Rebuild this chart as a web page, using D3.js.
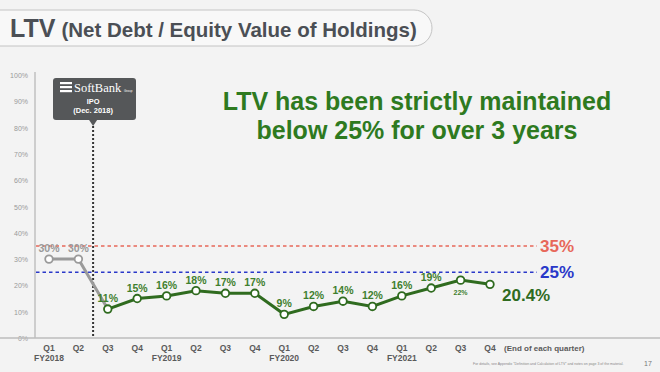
<!DOCTYPE html>
<html>
<head>
<meta charset="utf-8">
<script src="https://cdn.jsdelivr.net/npm/d3@7"></script>
<style>
  body { margin: 0; background: #f3f3f3; }
  svg { display: block; font-family: "Liberation Sans", Arial, sans-serif; }
</style>
</head>
<body>
<div id="chart"></div>
<script>
const quarters = ["Q1", "Q2", "Q3", "Q4", "Q1", "Q2", "Q3", "Q4", "Q1", "Q2", "Q3", "Q4", "Q1", "Q2", "Q3", "Q4"];
const fiscalYears = ["FY2018", "", "", "", "FY2019", "", "", "", "FY2020", "", "", "", "FY2021", "", "", ""];
const ltv = [30, 30, 11, 15, 16, 18, 17, 17, 9, 12, 14, 12, 16, 19, 22, 20.4];
const ltvLabels = ["30%", "30%", "11%", "15%", "16%", "18%", "17%", "17%", "9%", "12%", "14%", "12%", "16%", "19%", "22%", ""];
const yTicks = [0, 10, 20, 30, 40, 50, 60, 70, 80, 90, 100];
const limits = [35, 25];
const preIpoCount = 2;

const W = 660, H = 372;
const svg = d3.select("#chart").append("svg").attr("width", W).attr("height", H);

svg.append("rect").attr("width", W).attr("height", H).attr("fill", "#f3f3f3");

// title pill
svg.append("rect")
    .attr("x", -30).attr("y", 10).attr("width", 462).attr("height", 36).attr("rx", 18)
    .attr("fill", "#f8f8f8").attr("stroke", "#c4c4c4").attr("stroke-width", 1);
const title = svg.append("text").attr("x", 10).attr("y", 37).attr("fill", "#4b4f55").attr("font-weight", "bold");
title.append("tspan").attr("font-size", 25).text("LTV");
title.append("tspan").attr("font-size", 20.5).attr("dx", 6).text("(Net Debt / Equity Value of Holdings)");

const x = d3.scalePoint().domain(d3.range(quarters.length)).range([49, 490]);
const y = d3.scaleLinear().domain([0, 100]).range([338, 75]);

// y axis
svg.append("line").attr("x1", 35).attr("x2", 35).attr("y1", 72).attr("y2", y(0))
    .attr("stroke", "#c0c0c0").attr("stroke-width", 1.5);
svg.selectAll(".ytick").data(yTicks).enter().append("text")
    .attr("x", 28).attr("y", d => y(d) + 3)
    .attr("text-anchor", "end").attr("font-size", 7).attr("fill", "#999")
    .text(d => d + "%");

// baseline
svg.append("line").attr("x1", 0).attr("x2", W).attr("y1", y(0)).attr("y2", y(0))
    .attr("stroke", "#bdbdbd").attr("stroke-width", 1.5);

// x labels
svg.selectAll(".q").data(quarters).enter().append("text")
    .attr("x", (d, i) => x(i)).attr("y", 351)
    .attr("text-anchor", "middle").attr("font-size", 8.5).attr("font-weight", "bold").attr("fill", "#5a5a5a")
    .text(d => d);
svg.selectAll(".fy").data(fiscalYears).enter().append("text")
    .attr("x", (d, i) => x(i)).attr("y", 361)
    .attr("text-anchor", "middle").attr("font-size", 8.5).attr("font-weight", "bold").attr("fill", "#5a5a5a")
    .text(d => d);
svg.append("text").attr("x", 504).attr("y", 351)
    .attr("font-size", 8).attr("font-weight", "bold").attr("fill", "#5a5a5a")
    .text("(End of each quarter)");

// limit lines
const limitColors = ["#e7685a", "#2a38c9"];
limits.forEach((v, i) => {
    svg.append("line").attr("x1", 36).attr("x2", 537).attr("y1", y(v)).attr("y2", y(v))
        .attr("stroke", limitColors[i]).attr("stroke-width", 1.6).attr("stroke-dasharray", "3.5,3");
    svg.append("text").attr("x", 540).attr("y", y(v) + 6)
        .attr("font-size", 17).attr("font-weight", "bold").attr("fill", limitColors[i])
        .text(v + "%");
});

// IPO marker
const ipoX = (x(1) + x(2)) / 2;
svg.append("line").attr("x1", ipoX).attr("x2", ipoX).attr("y1", 122).attr("y2", y(0))
    .attr("stroke", "#333").attr("stroke-width", 2).attr("stroke-dasharray", "2,2");
svg.append("rect").attr("x", 53).attr("y", 78).attr("width", 83).attr("height", 42).attr("rx", 3)
    .attr("fill", "#555759");
svg.append("path").attr("d", `M${ipoX - 4},120 L${ipoX},126 L${ipoX + 4},120 Z`).attr("fill", "#555759");
[82, 86, 90].forEach(yy => {
    svg.append("rect").attr("x", 60).attr("y", yy).attr("width", 12).attr("height", 2.2).attr("fill", "#fff");
});
svg.append("text").attr("x", 74).attr("y", 92).attr("font-family", "Liberation Serif, serif")
    .attr("font-size", 12.5).attr("fill", "#fff").text("SoftBank");
svg.append("text").attr("x", 124).attr("y", 92).attr("font-size", 3).attr("fill", "#fff").text("Group");
svg.append("text").attr("x", ipoX).attr("y", 104).attr("text-anchor", "middle")
    .attr("font-size", 7.5).attr("font-weight", "bold").attr("fill", "#fff").text("IPO");
svg.append("text").attr("x", ipoX).attr("y", 112.5).attr("text-anchor", "middle")
    .attr("font-size", 7.5).attr("font-weight", "bold").attr("fill", "#fff").text("(Dec. 2018)");

// message
const msg = svg.append("text").attr("text-anchor", "middle")
    .attr("font-size", 25).attr("font-weight", "bold").attr("fill", "#2e7a1f");
msg.append("tspan").attr("x", 417).attr("y", 110).text("LTV has been strictly maintained");
msg.append("tspan").attr("x", 417).attr("y", 139).text("below 25% for over 3 years");

// lines
const line = d3.line().x(d => x(d[0])).y(d => y(d[1]));
const pts = ltv.map((v, i) => [i, v]);
svg.append("path").attr("d", line(pts.slice(0, preIpoCount + 1)))
    .attr("fill", "none").attr("stroke", "#9a9a9a").attr("stroke-width", 3);
svg.append("path").attr("d", line(pts.slice(preIpoCount)))
    .attr("fill", "none").attr("stroke", "#2f6b1f").attr("stroke-width", 3);

svg.selectAll(".pt").data(pts).enter().append("circle")
    .attr("cx", d => x(d[0])).attr("cy", d => y(d[1])).attr("r", 3.8)
    .attr("fill", "#fff")
    .attr("stroke", d => d[0] < preIpoCount ? "#9a9a9a" : "#2f6b1f").attr("stroke-width", 1.8);

svg.selectAll(".lbl").data(pts).enter().append("text")
    .attr("x", d => x(d[0]))
    .attr("y", d => d[0] === 14 ? y(d[1]) + 15 : y(d[1]) - 7)
    .attr("text-anchor", "middle")
    .attr("font-size", d => d[0] === 14 ? 7 : 10.5).attr("font-weight", "bold")
    .attr("fill", d => d[0] < preIpoCount ? "#9a9a9a" : "#3f7f2e")
    .text(d => ltvLabels[d[0]]);

svg.append("text").attr("x", 502).attr("y", 301)
    .attr("font-size", 17).attr("font-weight", "bold").attr("fill", "#2f6b1f")
    .text(ltv[ltv.length - 1] + "%");

// footnote
svg.append("text").attr("x", 473).attr("y", 365).attr("font-size", 3.5).attr("fill", "#888")
    .text("For details, see Appendix \"Definition and Calculation of LTV\" and notes on page 3 of the material.");
svg.append("text").attr("x", 644).attr("y", 366).attr("font-size", 7).attr("fill", "#777").text("17");
</script>
</body>
</html>
